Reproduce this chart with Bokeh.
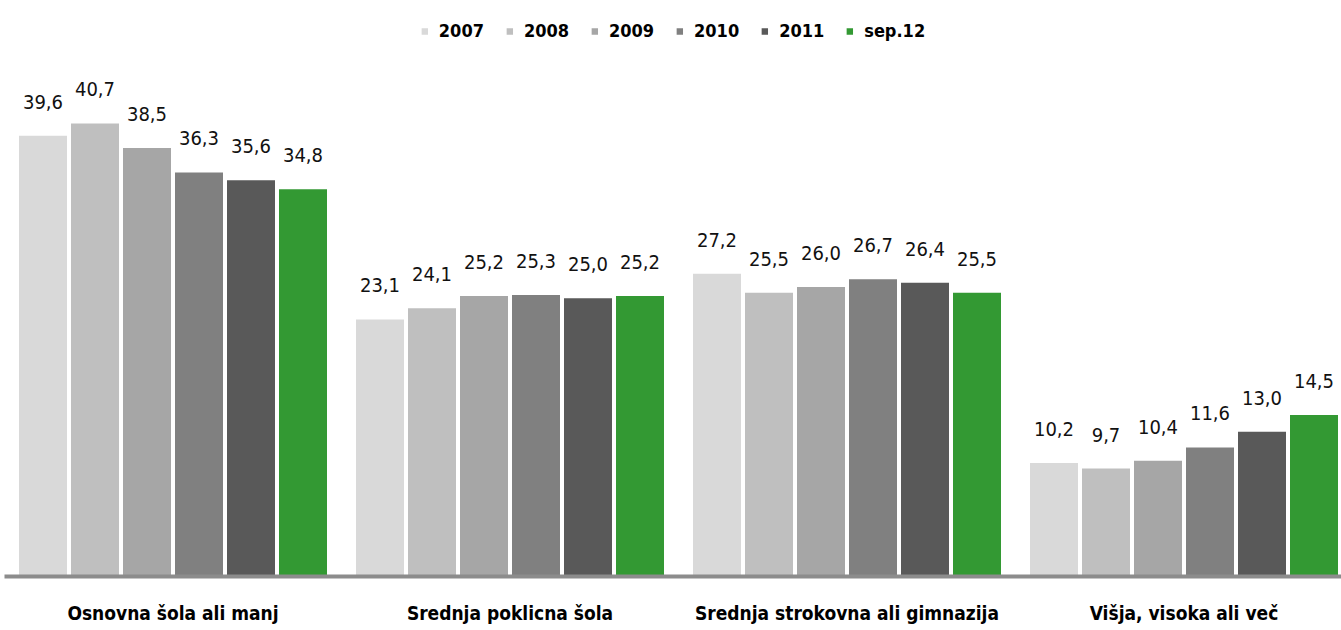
from bokeh.plotting import figure
from bokeh.models import ColumnDataSource, Range1d, LabelSet, Legend, LegendItem, FixedTicker
from bokeh.core.properties import value
from bokeh.embed import file_html
from bokeh.resources import INLINE

# Share of unemployed by education level (%)
categories = ["Osnovna šola ali manj", "Srednja poklicna šola",
              "Srednja strokovna ali gimnazija", "Višja, visoka ali več"]
series = ["2007", "2008", "2009", "2010", "2011", "sep.12"]
v2007 = [39.6, 23.1, 27.2, 10.2]
v2008 = [40.7, 24.1, 25.5, 9.7]
v2009 = [38.5, 25.2, 26.0, 10.4]
v2010 = [36.3, 25.3, 26.7, 11.6]
v2011 = [35.6, 25.0, 26.4, 13.0]
vsep12 = [34.8, 25.2, 25.5, 14.5]
colors = ["#d9d9d9", "#bfbfbf", "#a6a6a6", "#808080", "#595959", "#339933"]

values = [v2007, v2008, v2009, v2010, v2011, vsep12]

NARROW = "DejaVu Sans Condensed"

p = figure(width=1341, height=630, output_backend="svg", toolbar_location=None,
           x_range=Range1d(0, 1337 / 337), y_range=Range1d(0, 50.85),
           min_border_left=4, min_border_right=0, min_border_top=10,
           min_border_bottom=54, outline_line_color=None)
p.xgrid.visible = False
p.ygrid.visible = False
p.yaxis.visible = False

pitch = 52 / 337
bar_w = 48 / 337
items = []
for k, (name, vals, col) in enumerate(zip(series, values, colors)):
    xs = [i + 0.5 + (k - 2.5) * pitch for i in range(len(categories))]
    src = ColumnDataSource(dict(x=xs, top=vals,
                                lab=[f"{v:.1f}".replace(".", ",") for v in vals]))
    r = p.vbar(x="x", top="top", width=bar_w, source=src,
               fill_color=col, line_color=None)
    items.append(LegendItem(label=name, renderers=[r]))
    p.add_layout(LabelSet(x="x", y="top", text="lab", source=src,
                          text_align="center", text_baseline="alphabetic",
                          y_offset=27, text_font=value(NARROW),
                          text_font_size=value("20px"), text_color="#111111"))

legend = Legend(items=items, orientation="horizontal", location="top_center",
                glyph_width=8, glyph_height=8, label_standoff=11, spacing=21,
                label_text_font=NARROW, label_text_font_style="bold",
                label_text_font_size="18px", label_text_color="#000000",
                background_fill_alpha=0, border_line_color=None,
                padding=0, margin=10)
p.add_layout(legend)

ax = p.xaxis[0]
ax.ticker = FixedTicker(ticks=[i + 0.5 for i in range(len(categories))])
ax.major_label_overrides = {i + 0.5: c for i, c in enumerate(categories)}
ax.major_tick_line_color = None
ax.minor_tick_line_color = None
ax.axis_line_color = "#8c8c8c"
ax.axis_line_width = 4
ax.major_label_standoff = 19
ax.major_label_text_font = NARROW
ax.major_label_text_font_style = "bold"
ax.major_label_text_font_size = "19px"
ax.major_label_text_color = "#000000"

open("out.html", "w").write(file_html(p, INLINE))
